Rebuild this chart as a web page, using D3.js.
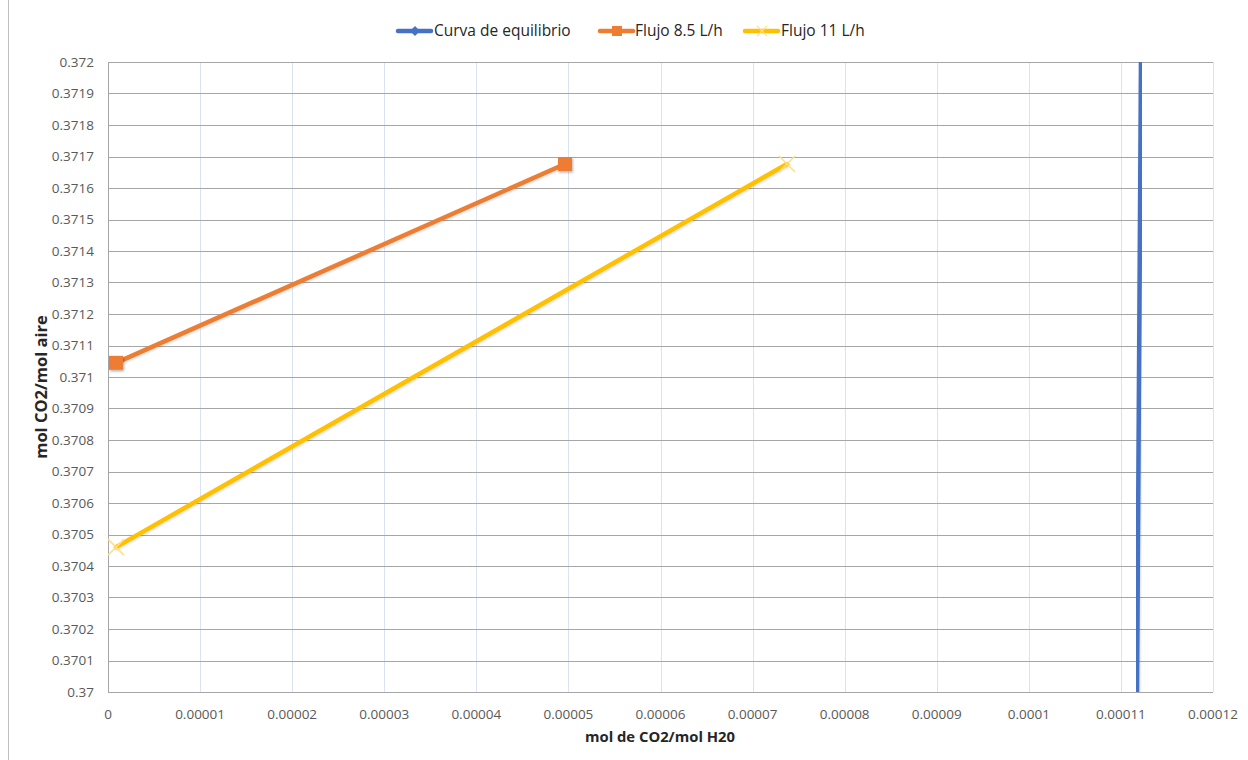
<!DOCTYPE html>
<html>
<head>
<meta charset="utf-8">
<script src="https://cdn.jsdelivr.net/npm/d3@7"></script>
<style>
  html, body { margin: 0; padding: 0; background: #fff; }
  svg { display: block; font-family: "Open Sans", "Liberation Sans", sans-serif; }
</style>
</head>
<body>
<svg id="chart" width="1248" height="760"></svg>
<script>
// Series data: x = mol CO2 / mol H2O, y = mol CO2 / mol aire
const equilibrioX = [0.00011175, 0.00011218];
const equilibrioY = [0.3700, 0.3720];
const flujo85X = [0.00000087, 0.00004963];
const flujo85Y = [0.371045, 0.371676];
const flujo11X = [0.00000087, 0.00007374];
const flujo11Y = [0.370460, 0.371676];

const xTicks = [0, 0.00001, 0.00002, 0.00003, 0.00004, 0.00005, 0.00006, 0.00007, 0.00008, 0.00009, 0.0001, 0.00011, 0.00012];
const xTickLabels = ["0", "0.00001", "0.00002", "0.00003", "0.00004", "0.00005", "0.00006", "0.00007", "0.00008", "0.00009", "0.0001", "0.00011", "0.00012"];
const yTicks = d3.range(0, 21).map(i => +(0.37 + i * 0.0001).toFixed(4));

const seriesNames = ["Curva de equilibrio", "Flujo 8.5 L/h", "Flujo 11 L/h"];
const seriesColors = ["#4472C4", "#ED7D31", "#FFC000"];

const svg = d3.select("#chart");
const W = 1248, H = 760;
const plot = { left: 108, right: 1213, top: 62, bottom: 692 };

const x = d3.scaleLinear().domain([0, 0.00012]).range([plot.left, plot.right]);
const y = d3.scaleLinear().domain([0.37, 0.372]).range([plot.bottom, plot.top]);

// chart frame edge
svg.append("line").attr("x1", 8.5).attr("x2", 8.5).attr("y1", 0).attr("y2", H)
  .attr("stroke", "#bfbfbf").attr("stroke-width", 1);

const defs = svg.append("defs");
const sh = defs.append("filter").attr("id", "shadow").attr("x", "-50%").attr("y", "-50%").attr("width", "200%").attr("height", "200%");
sh.append("feDropShadow").attr("dx", 1).attr("dy", 1.5).attr("stdDeviation", 1.2)
  .attr("flood-color", "#000").attr("flood-opacity", 0.3);
const shl = defs.append("filter").attr("id", "lineshadow").attr("x", "-10%").attr("y", "-10%").attr("width", "120%").attr("height", "120%");
shl.append("feDropShadow").attr("dx", 0.8).attr("dy", 1).attr("stdDeviation", 0.8)
  .attr("flood-color", "#000").attr("flood-opacity", 0.15);
const clip = defs.append("clipPath").attr("id", "plotclip");
clip.append("rect").attr("x", plot.left).attr("y", plot.top)
  .attr("width", plot.right - plot.left).attr("height", plot.bottom - plot.top);

// vertical gridlines (light blue)
svg.append("g").selectAll("line").data(xTicks.slice(1)).join("line")
  .attr("x1", d => Math.round(x(d)) + 0.5).attr("x2", d => Math.round(x(d)) + 0.5)
  .attr("y1", plot.top).attr("y2", plot.bottom)
  .attr("stroke", "#dae3f3").attr("stroke-width", 1);

// horizontal gridlines (gray)
svg.append("g").selectAll("line").data(yTicks).join("line")
  .attr("x1", plot.left).attr("x2", plot.right)
  .attr("y1", d => Math.round(y(d)) + 0.5).attr("y2", d => Math.round(y(d)) + 0.5)
  .attr("stroke", "#a6a6a6").attr("stroke-width", 1);

// axis line
svg.append("line").attr("x1", plot.left + 0.5).attr("x2", plot.left + 0.5)
  .attr("y1", plot.top).attr("y2", plot.bottom + 0.5)
  .attr("stroke", "#a6a6a6");

// tick labels
svg.append("g").selectAll("text").data(yTicks).join("text")
  .attr("x", plot.left - 14).attr("y", d => y(d)).attr("dy", "0.35em")
  .attr("text-anchor", "end").attr("font-size", 13.5).attr("fill", "#595959")
  .text(d => String(d));

svg.append("g").selectAll("text").data(xTicks).join("text")
  .attr("x", d => x(d)).attr("y", plot.bottom + 27)
  .attr("text-anchor", "middle").attr("font-size", 13.5).attr("fill", "#595959")
  .text((d, i) => xTickLabels[i]);

// axis titles
svg.append("text").attr("x", 660).attr("y", 742)
  .attr("text-anchor", "middle").attr("font-size", 14.8).attr("font-weight", "bold").attr("fill", "#262626")
  .text("mol de CO2/mol H20");
svg.append("text").attr("transform", `translate(47, 387) rotate(-90)`)
  .attr("text-anchor", "middle").attr("font-size", 16.5).attr("font-weight", "bold").attr("fill", "#262626")
  .text("mol CO2/mol aire");

// series lines
const line = d3.line().x(d => x(d[0])).y(d => y(d[1]));
const series = [
  d3.zip(equilibrioX, equilibrioY),
  d3.zip(flujo85X, flujo85Y),
  d3.zip(flujo11X, flujo11Y)
];
const lines = svg.append("g").attr("clip-path", "url(#plotclip)");
series.forEach((pts, i) => {
  lines.append("path").datum(pts).attr("d", line)
    .attr("fill", "none").attr("stroke", seriesColors[i]).attr("stroke-width", 4.5)
    .attr("stroke-linecap", "round").attr("filter", "url(#lineshadow)");
});

// markers: squares for 8.5 L/h, crosses for 11 L/h
svg.append("g").selectAll("rect").data(series[1]).join("rect")
  .attr("x", d => x(d[0]) - 7).attr("y", d => y(d[1]) - 7)
  .attr("width", 14).attr("height", 14)
  .attr("fill", seriesColors[1]).attr("filter", "url(#shadow)");

svg.append("g").selectAll("path").data(series[2]).join("path")
  .attr("d", d => {
    const cx = x(d[0]), cy = y(d[1]), r = 8;
    return `M${cx - r},${cy - r}L${cx + r},${cy + r}M${cx - r},${cy + r}L${cx + r},${cy - r}`;
  })
  .attr("stroke", "#ffe08a").attr("stroke-width", 1.5).attr("fill", "none");

// legend
const legendItems = [
  { x: 398, tx: 434 },
  { x: 600, tx: 635 },
  { x: 745, tx: 781 }
];
const lg = svg.append("g");
legendItems.forEach((it, i) => {
  lg.append("line").attr("x1", it.x).attr("x2", it.x + 33).attr("y1", 31).attr("y2", 31)
    .attr("stroke", seriesColors[i]).attr("stroke-width", 4.5).attr("stroke-linecap", "round");
  const cx = it.x + 17;
  if (i === 0) {
    lg.append("path").attr("d", `M${cx},${26}L${cx + 5},${31}L${cx},${36}L${cx - 5},${31}Z`).attr("fill", seriesColors[0]);
  } else if (i === 1) {
    lg.append("rect").attr("x", cx - 5).attr("y", 26).attr("width", 10).attr("height", 10).attr("fill", seriesColors[1]);
  } else {
    lg.append("path").attr("d", `M${cx - 5},26L${cx + 5},36M${cx - 5},36L${cx + 5},26`)
      .attr("stroke", "#ffe08a").attr("stroke-width", 1.2);
  }
  lg.append("text").attr("x", it.tx).attr("y", 31).attr("dy", "0.35em")
    .attr("font-size", 15.5).attr("fill", "#262626").text(seriesNames[i]);
});
</script>
</body>
</html>
